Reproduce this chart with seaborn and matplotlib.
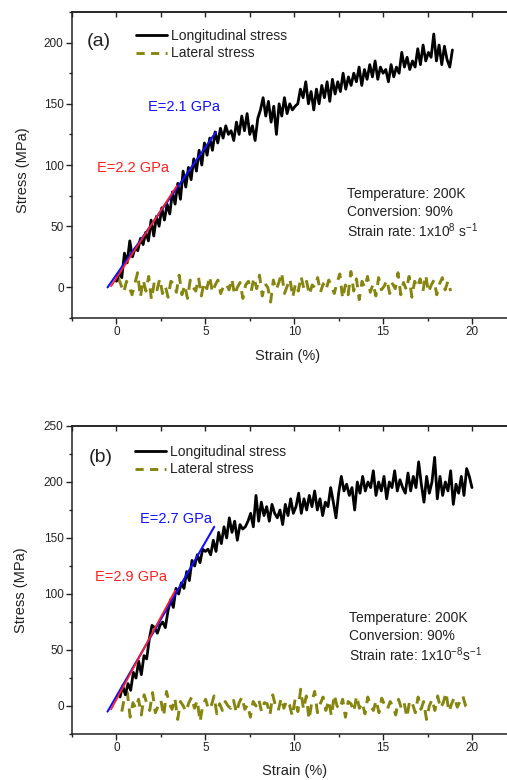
import numpy as np
import pandas as pd
import matplotlib
matplotlib.use("Agg")
import matplotlib.pyplot as plt
from matplotlib.ticker import MultipleLocator
from matplotlib.lines import Line2D
import seaborn as sns

# ---------------- data ----------------
# panel (a): longitudinal stress, strain 0 .. 18.9 %
long_a = [5, 12, 8, 28, 20, 38, 25, 32, 30, 40,
          35, 45, 38, 55, 42, 58, 50, 65, 55, 68,
          60, 78, 68, 85, 72, 95, 82, 98, 88, 105,
          95, 112, 100, 118, 108, 122, 112, 127, 118, 130,
          122, 132, 125, 128, 120, 135, 125, 140, 128, 142,
          125, 132, 120, 138, 145, 155, 140, 152, 135, 148,
          125, 150, 140, 155, 142, 150, 145, 148, 150, 162,
          155, 168, 150, 160, 145, 162, 150, 165, 155, 168,
          152, 170, 158, 168, 160, 175, 162, 172, 165, 175,
          168, 180, 165, 178, 170, 182, 172, 185, 170, 180,
          175, 178, 168, 182, 172, 180, 175, 192, 180, 188,
          178, 185, 180, 195, 182, 198, 185, 192, 188, 207,
          185, 198, 182, 197, 186, 180, 194]
long_a_range = (0.0, 18.9)

lat_a = [8, 2, -4, 5, 0, -6, 3, 12, -8, 6, -3, 9, -10, 4, -2, 7, -5, 1, -8, 5,
         3, -4, 10, -6, 2, -9, 6, 0, -3, 8, -7, 4, -1, 9, -4, 2, 6, -5, 1, 3,
         -2, 7, -6, 0, 4, -9, 2, 5, -3, 8, -1, 10, -7, 3, 0, -12, 6, -2, 4, 12,
         -5, 1, 7, -8, 3, -3, 9, -1, 5, -6,
         2, 0, 8, -4, 3, -2, 6, 1, -5, 4, 11, -9, 2, -6, 13, -3, 7, -10, 5, 0,
         9, -4, 3, -7, 8, -2, 1, 6, -5, 3,
         -1, 12, -6, 4, -2, 9, -8, 5, 0, 7, -3, 10, -4, 2, 6, -6, 3, 8, -2, 5, -3]
lat_a_range = (0.1, 18.8)

fit_a_blue_x = [-0.5, 5.6]
fit_a_blue_y = [0, 127]
fit_a_red_x = [-0.3, 3.4]
fit_a_red_y = [1, 83]

# panel (b)
long_b = [8, 18, 10, 20, 14, 30, 25, 40, 28, 45,
          42, 60, 72, 70, 65, 72, 75, 70, 85, 95,
          88, 105, 100, 110, 105, 120, 112, 130, 125, 135,
          128, 140, 138, 140, 135, 148, 138, 155, 145, 160,
          150, 168, 155, 165, 148, 162, 158, 160, 165, 172,
          160, 188, 165, 182, 170, 178, 165, 180, 172, 168,
          175, 162, 180, 170, 185, 172, 178, 190, 172, 185,
          175, 188, 178, 192, 175, 185, 170, 182, 178, 195,
          182, 168, 190, 205, 192, 198, 188, 195, 175, 200,
          190, 205, 192, 200, 195, 210, 188, 200, 192, 205,
          185, 200, 195, 210, 192, 202, 195, 190, 208, 192,
          205, 195, 218, 198, 182, 205, 190, 200, 222, 185,
          205, 188, 200, 192, 210, 180, 198, 190, 205, 188, 212, 205, 195]
long_b_range = (0.2, 20.0)

lat_b = [-5, 8, 12, -10, 3, -2, 6, -8, 10, 2, -4, 12, -6, 0, 5, -9, 13, 2, -3, 7,
         -12, 4, 0, -5, 3, 8, -2, 5, -14, 1, 6, -3, 0, 9, -7, 2, -4, 4, 0, -2,
         5, -6, 3, 8, -3, 1, -10, 4, 0, 6, -5, 3, 2, -8, 10, 0, -4, 7, -2, 5,
         1, -9, 6, -5, 15, -3, 9, -12, 4, 13,
         -6, 2, 8, -4, 5, -9, 10, 0, -3, 6, -10, 4, 2, -5, 9, -2, 3, -7, 8, 0,
         -4, 5, -6, 7, 1, -3, 4, 0, -8, 6,
         -2, 3, -10, 5, 2, -6, 8, -3, 4, -12, 0, 6, -4, 9, -2, 3, 12, -5, 2, 8,
         -1, 4, 9, 0, -3]
lat_b_range = (0.3, 19.8)

fit_b_blue_x = [-0.5, 5.5]
fit_b_blue_y = [-5, 160]
fit_b_red_x = [-0.3, 3.3]
fit_b_red_y = [-3, 103]

panels = [
    dict(tag="(a)", long=long_a, long_r=long_a_range, lat=lat_a, lat_r=lat_a_range,
         bx=fit_a_blue_x, by=fit_a_blue_y, rx=fit_a_red_x, ry=fit_a_red_y,
         e_blue="E=2.1 GPa", e_red="E=2.2 GPa",
         rate="Strain rate: 1x10$^{8}$ s$^{-1}$", ylim=(-25, 225)),
    dict(tag="(b)", long=long_b, long_r=long_b_range, lat=lat_b, lat_r=lat_b_range,
         bx=fit_b_blue_x, by=fit_b_blue_y, rx=fit_b_red_x, ry=fit_b_red_y,
         e_blue="E=2.7 GPa", e_red="E=2.9 GPa",
         rate="Strain rate: 1x10$^{-8}$s$^{-1}$", ylim=(-25, 250)),
]

# ---------------- style ----------------
sns.set_theme(style="ticks")
plt.rcParams["font.family"] = ["Liberation Sans", "DejaVu Sans"]
plt.rcParams["mathtext.fontset"] = "custom"
plt.rcParams["mathtext.rm"] = "Liberation Sans"
plt.rcParams["mathtext.it"] = "Liberation Sans:italic"
plt.rcParams["mathtext.default"] = "regular"

W, H = 507, 780
fig = plt.figure(figsize=(W / 100, H / 100), dpi=100)

LAT_COLOR = "#85850f"
LAT_DASH = (0, (3.6, 2.6))
TXT = "#222222"

# axes px boxes: (left, top, right, bottom); x: 0 -> 116 px, 5 units = 89 px
XMIN, XMAX = -2.5, 21.97
boxes = [(72, 12, 507, 318), (72, 426, 507, 734)]
# text positions in pixels
txtpos = [
    dict(tag=(87, 42), leg=(136, 29), blue=(148, 107), red=(97, 168),
         ann=(347, 194), xl=(288, 349), yl=(30, 170)),
    dict(tag=(89, 458), leg=(135, 445), blue=(140, 519), red=(95, 577),
         ann=(349, 618), xl=(295, 764), yl=(28, 590)),
]

for p, box, tp in zip(panels, boxes, txtpos):
    l, t, r, b = box
    ax = fig.add_axes([l / W, 1 - b / H, (r - l) / W, (b - t) / H])
    ax.set_xlim(XMIN, XMAX)
    ax.set_ylim(*p["ylim"])

    x_long = np.linspace(p["long_r"][0], p["long_r"][1], len(p["long"]))
    x_lat = np.linspace(p["lat_r"][0], p["lat_r"][1], len(p["lat"]))
    dfl = pd.DataFrame({"strain": x_long, "stress": p["long"]})
    dft = pd.DataFrame({"strain": x_lat, "stress": p["lat"]})

    sns.lineplot(data=dft, x="strain", y="stress", ax=ax, sort=False, estimator=None,
                 color=LAT_COLOR, lw=2.1, linestyle=LAT_DASH, zorder=2)
    sns.lineplot(data=dfl, x="strain", y="stress", ax=ax, sort=False, estimator=None,
                 color="black", lw=2.0, zorder=3)
    sns.lineplot(x=p["bx"], y=p["by"], ax=ax, color="#1010ff", lw=1.5, zorder=4,
                 sort=False, estimator=None)
    sns.lineplot(x=p["rx"], y=p["ry"], ax=ax, color="#ff2020", lw=1.3, zorder=5,
                 sort=False, estimator=None)

    def px2ax(px, py):
        return (px - l) / (r - l), (b - py) / (b - t)

    ax.text(*px2ax(*tp["tag"]), p["tag"], transform=ax.transAxes, fontsize=14,
            ha="left", va="center", color=TXT)
    ax.text(*px2ax(*tp["blue"]), p["e_blue"], transform=ax.transAxes, fontsize=10.5,
            ha="left", va="center", color="#1010ff")
    ax.text(*px2ax(*tp["red"]), p["e_red"], transform=ax.transAxes, fontsize=10.5,
            ha="left", va="center", color="#ff2020")
    ax_ = px2ax(*tp["ann"])
    ax.text(ax_[0], ax_[1], "Temperature: 200K", transform=ax.transAxes, fontsize=10,
            ha="left", va="center", color=TXT)
    ax.text(ax_[0], ax_[1] - 18 / (b - t), "Conversion: 90%", transform=ax.transAxes,
            fontsize=10, ha="left", va="center", color=TXT)
    ax.text(ax_[0], ax_[1] - 37 / (b - t), p["rate"], transform=ax.transAxes,
            fontsize=10, ha="left", va="center", color=TXT)

    handles = [Line2D([], [], color="black", lw=2.0),
               Line2D([], [], color=LAT_COLOR, lw=2.1, linestyle=(0, (2.8, 2.2)))]
    leg = ax.legend(handles, ["Longitudinal stress", "Lateral stress"],
                    loc="upper left", bbox_to_anchor=px2ax(*tp["leg"]),
                    frameon=False, fontsize=10, borderpad=0, borderaxespad=0,
                    handlelength=2.2, handletextpad=0.3, labelspacing=0.25)
    for txt in leg.get_texts():
        txt.set_color(TXT)

    ax.xaxis.set_major_locator(MultipleLocator(5))
    ax.xaxis.set_minor_locator(MultipleLocator(2.5))
    ax.yaxis.set_major_locator(MultipleLocator(50))
    ax.yaxis.set_minor_locator(MultipleLocator(25))
    ax.tick_params(which="major", direction="out", length=4, width=1, labelsize=8.5,
                   colors=TXT, pad=2)
    ax.tick_params(which="minor", direction="out", length=2.5, width=1, colors=TXT)
    ax.spines["right"].set_visible(False)
    for s in ["left", "bottom", "top"]:
        ax.spines[s].set_linewidth(1.1)
        ax.spines[s].set_color(TXT)

    sec = ax.secondary_xaxis("top")
    sec.xaxis.set_major_locator(MultipleLocator(5))
    sec.xaxis.set_minor_locator(MultipleLocator(2.5))
    sec.tick_params(which="both", direction="in", length=3.5, width=1, labeltop=False,
                    colors=TXT)
    for s in ["left", "right", "bottom"]:
        sec.spines[s].set_visible(False)
    sec.spines["top"].set_linewidth(1.1)
    sec.spines["top"].set_color(TXT)

    ax.set_xlabel("Strain (%)", fontsize=10.5, color=TXT)
    ax.set_ylabel("Stress (MPa)", fontsize=10.5, color=TXT)
    ax.xaxis.set_label_coords(*px2ax(*tp["xl"]))
    ax.yaxis.set_label_coords(*px2ax(*tp["yl"]))

fig.savefig("out.png", dpi=100)
